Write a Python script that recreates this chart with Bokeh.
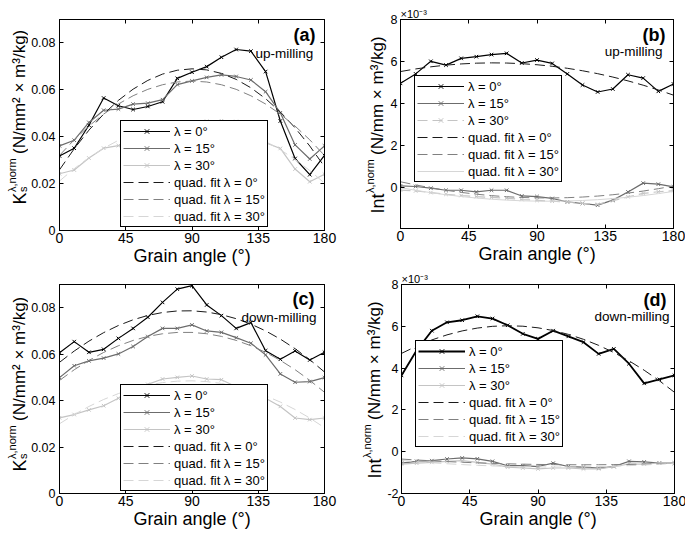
import numpy as np
from bokeh.plotting import figure
from bokeh.models import Range1d, FixedTicker, LinearAxis, Label, Legend, LegendItem, Title
from bokeh.layouts import column, row
from bokeh.embed import file_html
from bokeh.resources import INLINE

FONT = "Liberation Sans"
PI = 3.141592653589793

# ---------------- data ----------------
angles = [0, 10, 20, 30, 40, 50, 60, 70, 80, 90, 100, 110, 120, 130, 140, 150, 160, 170, 180]
x_ticks = [0, 45, 90, 135, 180]
lambda_labels = ["\u03bb = 0\u00b0", "\u03bb = 15\u00b0", "\u03bb = 30\u00b0"]
fit_labels = ["quad. fit \u03bb = 0\u00b0", "quad. fit \u03bb = 15\u00b0", "quad. fit \u03bb = 30\u00b0"]

# (a) up-milling, Ks
ks_up_l0 = [0.0318, 0.0351, 0.0449, 0.0565, 0.0532, 0.0516, 0.0529, 0.0549, 0.0649, 0.0675,
            0.0699, 0.0739, 0.0772, 0.0765, 0.0678, 0.0467, 0.0307, 0.0238, 0.0320]
ks_up_l15 = [0.0361, 0.0385, 0.0461, 0.0513, 0.0518, 0.0539, 0.0543, 0.0558, 0.0622, 0.0638,
             0.0653, 0.0664, 0.0657, 0.0642, 0.0592, 0.0502, 0.0365, 0.0305, 0.0361]
ks_up_l30 = [0.0242, 0.0258, 0.0309, 0.0351, 0.0362, 0.0390, 0.0420, 0.0442, 0.0455, 0.0460,
             0.0466, 0.0468, 0.0465, 0.0440, 0.0375, 0.0350, 0.0262, 0.0208, 0.0240]
# (b) up-milling, Int (x 1e-3)
int_up_l0 = [4.96, 5.41, 6.01, 5.83, 6.15, 6.23, 6.33, 6.39, 5.93, 6.07,
             5.91, 5.41, 4.88, 4.55, 4.69, 5.37, 5.21, 4.58, 4.93]
int_up_l15 = [0.08, 0.05, -0.03, -0.13, -0.13, -0.21, -0.13, -0.13, -0.40, -0.43,
              -0.52, -0.68, -0.76, -0.84, -0.60, -0.21, 0.21, 0.16, 0.03]
int_up_l30 = [-0.12, -0.16, -0.24, -0.32, -0.38, -0.43, -0.47, -0.51, -0.57, -0.61,
              -0.65, -0.70, -0.75, -0.80, -0.63, -0.44, -0.28, -0.20, -0.15]
# (c) down-milling, Ks
ks_dn_l0 = [0.0606, 0.0654, 0.0608, 0.0621, 0.0668, 0.0711, 0.0759, 0.0823, 0.0880, 0.0895,
            0.0812, 0.0766, 0.0711, 0.0736, 0.0615, 0.0578, 0.0614, 0.0575, 0.0608]
ks_dn_l15 = [0.0499, 0.0550, 0.0571, 0.0583, 0.0601, 0.0633, 0.0676, 0.0711, 0.0711, 0.0726,
             0.0700, 0.0694, 0.0671, 0.0647, 0.0597, 0.0515, 0.0479, 0.0482, 0.0499]
ks_dn_l30 = [0.0326, 0.0340, 0.0360, 0.0378, 0.0410, 0.0445, 0.0470, 0.0493, 0.0500, 0.0506,
             0.0493, 0.0490, 0.0460, 0.0435, 0.0410, 0.0375, 0.0325, 0.0318, 0.0325]
# (d) down-milling, Int (x 1e-3)
int_dn_l0 = [3.65, 4.85, 5.79, 6.19, 6.29, 6.48, 6.37, 6.05, 5.64, 5.40,
             5.79, 5.52, 5.24, 4.68, 4.92, 4.21, 3.27, 3.46, 3.65]
int_dn_l15 = [-0.55, -0.46, -0.43, -0.35, -0.30, -0.34, -0.46, -0.67, -0.67, -0.71,
              -0.55, -0.71, -0.74, -0.79, -0.71, -0.46, -0.49, -0.54, -0.55]
int_dn_l30 = [-0.59, -0.55, -0.51, -0.46, -0.43, -0.51, -0.59, -0.74, -0.78, -0.82,
              -0.78, -0.78, -0.82, -0.82, -0.71, -0.59, -0.59, -0.54, -0.55]

ks_ticks = [0, 0.02, 0.04, 0.06, 0.08]
ks_tick_labels = ["0", "0.02", "0.04", "0.06", "0.08"]
int_ticks_b = [0, 2, 4, 6, 8]
int_tick_labels_b = ["0", "2", "4", "6", "8"]
int_ticks_d = [-2, 0, 2, 4, 6, 8]
int_tick_labels_d = ["-2", "0", "2", "4", "6", "8"]

DATA_COLORS = ["#000000", "#6c6c6c", "#c4c4c4"]
FIT_COLORS = ["#1a1a1a", "#808080", "#d6d6d6"]


def style_axis(ax, ticks, labels, size, standoff):
    ax.ticker = FixedTicker(ticks=ticks)
    ax.major_label_overrides = {t: l for t, l in zip(ticks, labels)}
    ax.major_tick_in = 4
    ax.major_tick_out = 0
    ax.minor_tick_line_color = None
    ax.major_tick_line_color = "black"
    ax.axis_line_color = "black"
    ax.major_label_text_font = FONT
    ax.major_label_text_font_size = size
    ax.major_label_text_color = "black"
    ax.major_label_standoff = standoff


def blank_axis(ticks):
    return LinearAxis(ticker=FixedTicker(ticks=ticks), major_tick_in=4, major_tick_out=0,
                      minor_tick_line_color=None, major_label_text_font_size="0px",
                      major_label_standoff=0, axis_line_color="black",
                      major_label_text_alpha=0)


def lab(p, text, x, y, size, align="left", baseline="alphabetic", angle=0.0, bold=False):
    p.add_layout(Label(x=x, y=y, x_units="screen", y_units="screen", text=text,
                       text_font=FONT, text_font_size=size, text_align=align,
                       text_baseline=baseline, angle=angle, text_color="black",
                       text_font_style="bold" if bold else "normal"))


def ylabel_fig(kind, width, height, xm, yb):
    # narrow companion figure holding the composed (sub/superscript) y-axis label;
    # its frame is aligned with the neighbouring panel's frame
    f = figure(width=width, height=height, x_axis_location=None, y_axis_location=None,
               min_border=0, output_backend="svg", toolbar_location=None, tools="",
               x_range=Range1d(0, 1), y_range=Range1d(0, 1))
    f.outline_line_color = None
    f.background_fill_color = "white"
    f.border_fill_color = "white"
    for g in f.xgrid + f.ygrid:
        g.visible = False
    a = PI / 2
    fk, fs, fm = 18, 11, 17
    if kind == "K":
        lab(f, "K", xm, yb, f"{fk}px", angle=a)
        ys = yb + 0.667 * fk + 0.5
        lab(f, "s", xm + 3.5, ys, f"{fs}px", angle=a)
        lab(f, "\u03bb,norm", xm - 8, ys, f"{fs}px", angle=a)
        lab(f, "(N/mm\u00b2 \u00d7 m\u00b3/kg)", xm, ys + 3.1 * fs + 4, f"{fm}px", angle=a)
    else:
        lab(f, "Int", xm, yb, f"{fk}px", angle=a)
        ys = yb + 1.112 * fk + 0.5
        lab(f, "\u03bb,norm", xm - 8, ys, f"{fs}px", angle=a)
        lab(f, "(N/mm \u00d7 m\u00b3/kg)", xm, ys + 3.1 * fs + 4, f"{fm}px", angle=a)
    return f


def panel(series, y0, y1, yticks, ylabels, fw, fh, mbl, mbr, mbt, mbb, leg_loc,
          letter, mode_text, mode_pos, letter_pos, exp_label, data_styles, fit_styles,
          ystandoff):
    p = figure(frame_width=fw, frame_height=fh, min_border_left=mbl, min_border_right=mbr,
               min_border_top=mbt, min_border_bottom=mbb,
               x_range=Range1d(0, 180), y_range=Range1d(y0, y1),
               output_backend="svg", toolbar_location=None, tools="")
    p.xgrid.visible = False
    p.ygrid.visible = False
    p.outline_line_color = "black"
    p.outline_line_width = 1
    p.outline_line_alpha = 1
    p.background_fill_color = "white"
    p.border_fill_color = "white"
    style_axis(p.xaxis[0], x_ticks, [str(t) for t in x_ticks], "14px", 2)
    style_axis(p.yaxis[0], yticks, ylabels, "12.5px", ystandoff)
    xa = p.xaxis[0]
    xa.axis_label = "Grain angle (\u00b0)"
    xa.axis_label_text_font = FONT
    xa.axis_label_text_font_size = "18px"
    xa.axis_label_text_font_style = "normal"
    xa.axis_label_text_color = "black"
    xa.axis_label_standoff = 0
    p.add_layout(blank_axis(x_ticks), "above")
    p.add_layout(blank_axis(yticks), "right")

    data_items, fit_items = [], []
    for vals, col, (lw, dash), lbl in zip(series, DATA_COLORS, data_styles, lambda_labels):
        l = p.line(angles, vals, line_color=col, line_width=lw, line_dash=dash)
        s = p.scatter(angles, vals, marker="x", size=5, line_color=col, line_width=1)
        data_items.append(LegendItem(label=lbl, renderers=[l, s]))
    for vals, col, (lw, dash), lbl in zip(series, FIT_COLORS, fit_styles, fit_labels):
        coef = np.polyfit(angles, vals, 2)
        fit = np.polyval(coef, angles)
        l = p.line(angles, fit, line_color=col, line_width=lw, line_dash=dash)
        fit_items.append(LegendItem(label=lbl, renderers=[l]))

    leg = Legend(items=data_items + fit_items, location=leg_loc,
                 label_text_font=FONT, label_text_font_size="13px", label_text_color="black",
                 glyph_width=47, glyph_height=16, label_height=16, label_standoff=4,
                 spacing=1, padding=2, margin=0, border_line_color="black",
                 border_line_width=1, border_line_alpha=1, background_fill_color="white",
                 background_fill_alpha=1)
    p.add_layout(leg)

    lab(p, letter, letter_pos[0], letter_pos[1], "18px", align="right", baseline="middle", bold=True)
    lab(p, mode_text, mode_pos[0], mode_pos[1], "13.5px", align=mode_pos[2], baseline="middle")

    if exp_label:
        p.add_layout(Title(text="\u00d710\u207b\u00b3", align="left", text_font=FONT,
                           text_font_size="11px", text_font_style="normal",
                           text_color="black", standoff=0, offset=0), "above")
    return p


SOLID = (1.2, "solid")
DASH = (1.0, "10 5")

pa = panel([ks_up_l0, ks_up_l15, ks_up_l30], 0, 0.09, ks_ticks, ks_tick_labels,
           265, 211, 29, 23, 17, 39, (61, 3), "(a)", "up-milling",
           (196, 177, "left"), (256, 196), False,
           [SOLID, SOLID, SOLID], [DASH, DASH, DASH], 4)
pb = panel([int_up_l0, int_up_l15, int_up_l30], -1.95, 8, int_ticks_b, int_tick_labels_b,
           273, 209, 12, 14, 19, 39, (14, 46), "(b)", "up-milling",
           (262, 177, "right"), (265, 194), True,
           [SOLID, SOLID, (1.2, "10 5")], [DASH, DASH, (1.0, "solid")], 3)
pc = panel([ks_dn_l0, ks_dn_l15, ks_dn_l30], 0, 0.09, ks_ticks, ks_tick_labels,
           265, 209, 29, 23, 17, 38, (61, 2), "(c)", "down-milling",
           (182, 176, "left"), (255, 195), False,
           [SOLID, SOLID, SOLID], [DASH, DASH, DASH], 4)
pd = panel([int_dn_l0, int_dn_l15, int_dn_l30], -2, 8, int_ticks_d, int_tick_labels_d,
           273, 209, 15, 14, 17, 38, (14, 46), "(d)", "down-milling",
           (268, 177, "right"), (265, 194), True,
           [(1.8, "solid"), SOLID, SOLID], [DASH, DASH, DASH], 3)

la = ylabel_fig("K", 28, 267, 19, 24)
lb = ylabel_fig("Int", 40, 267, 30, 15)
lc = ylabel_fig("K", 28, 264, 19, 22)
ld = ylabel_fig("Int", 37, 264, 27, 15)

layout = column(row(la, pa, lb, pb), row(lc, pc, ld, pd))
open("out.html", "w").write(file_html(layout, INLINE))
